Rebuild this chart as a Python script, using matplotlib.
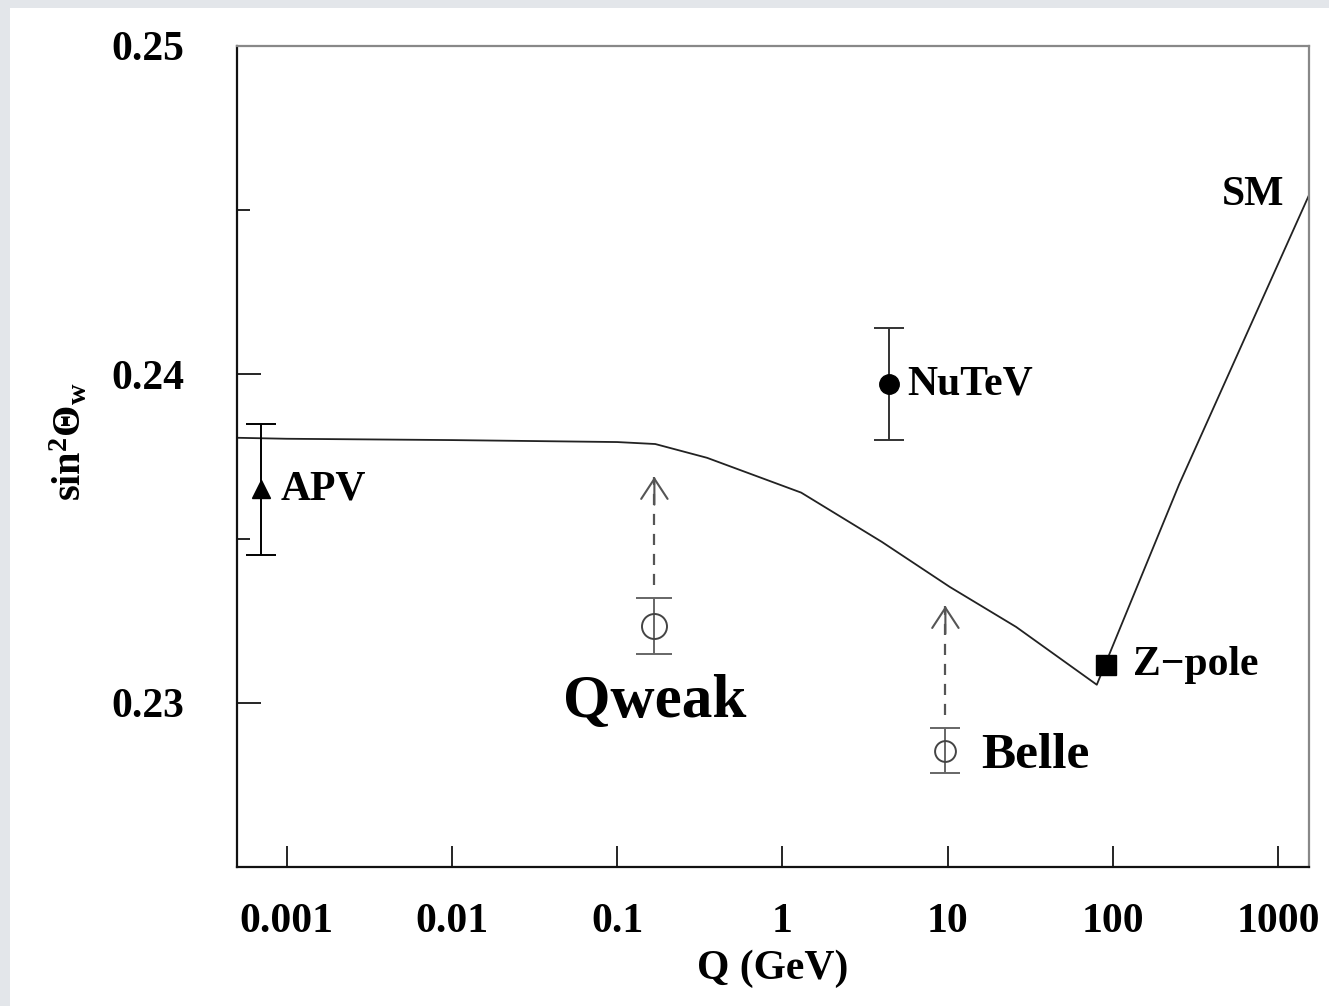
import matplotlib
matplotlib.use("Agg")
import matplotlib.pyplot as plt
from matplotlib.patches import Rectangle
from matplotlib.ticker import FixedLocator, NullLocator

plt.rcParams['font.family'] = ['Liberation Serif', 'DejaVu Serif']
plt.rcParams['font.weight'] = 'bold'
plt.rcParams['mathtext.fontset'] = 'custom'
plt.rcParams['mathtext.rm'] = 'Liberation Serif:bold'
plt.rcParams['mathtext.bf'] = 'Liberation Serif:bold'
plt.rcParams['mathtext.it'] = 'Liberation Serif:bold'

# ---- data ----
sm_q = [0.0005, 0.001, 0.01, 0.1, 0.17, 0.35, 1.3, 4.0, 10.3, 26, 80,
        252, 1540]
sm_s = [0.23807, 0.23804, 0.2380, 0.23794, 0.23788, 0.23746, 0.2364, 0.2349,
        0.23353, 0.23231, 0.23055,
        0.23665, 0.24546]

apv_q, apv_s, apv_err = 0.0007, 0.2365, 0.0020
nutev_q, nutev_s, nutev_err = 4.45, 0.2397, 0.0017
qweak_q, qweak_s, qweak_err = 0.168, 0.23234, 0.00085
belle_q, belle_s, belle_err = 9.7, 0.22854, 0.00068
zpole_q, zpole_s = 91.2, 0.23116

qweak_arrow = [0.23359, 0.23688]
belle_arrow = [0.22963, 0.23295]

x_ticks = [0.001, 0.01, 0.1, 1, 10, 100, 1000]
x_ticklabels = ['0.001', '0.01', '0.1', '1', '10', '100', '1000']
y_major = [0.23, 0.24, 0.25]
y_minor = [0.225, 0.235, 0.245]
y_ticklabels = ['0.23', '0.24', '0.25']

# ---- figure ----
W, H = 1329, 1006
fig = plt.figure(figsize=(W / 100, H / 100), dpi=100)
fig.patch.set_facecolor('#e3e6ea')
fig.patches.append(Rectangle((10 / W, 0), 1 - 10 / W, 1 - 8 / H,
                             transform=fig.transFigure, facecolor='white',
                             edgecolor='none', zorder=-10))

ax = fig.add_axes([237 / W, 1 - 867 / H, (1309 - 237) / W, (867 - 46) / H])
ax.set_facecolor('white')
ax.set_xscale('log')
ax.set_xlim(0.0005, 1540)
ax.set_ylim(0.225, 0.25)

# SM curve
ax.plot(sm_q, sm_s, color='#222222', lw=1.3, zorder=2)

gray = '#666666'
# APV
ax.errorbar([apv_q], [apv_s], yerr=[apv_err], fmt='^', color='black', ms=13,
            capsize=11, elinewidth=1.4, capthick=1.4, zorder=3)
# NuTeV
ax.errorbar([nutev_q], [nutev_s], yerr=[nutev_err], fmt='o', color='black', ms=14,
            capsize=11, elinewidth=1.4, capthick=1.4, zorder=3, ecolor='#333333')
# Qweak
ax.errorbar([qweak_q], [qweak_s], yerr=[qweak_err], fmt='o', mfc='none', mec='#444444',
            mew=1.4, ms=18, capsize=13, elinewidth=1.4, capthick=1.8, ecolor=gray, zorder=3)
# Belle
ax.errorbar([belle_q], [belle_s], yerr=[belle_err], fmt='o', mfc='none', mec='#444444',
            mew=1.4, ms=15, capsize=11, elinewidth=1.4, capthick=1.8, ecolor=gray, zorder=3)
# Z-pole
ax.plot([zpole_q], [zpole_s], 's', color='black', ms=15, zorder=4)

# dashed arrows
for q, (a0, a1) in [(qweak_q, qweak_arrow), (belle_q, belle_arrow)]:
    ax.plot([q, q], [a0, a1], ls=(0, (5, 4)), color='#555555', lw=1.6, zorder=2)
    ax.annotate('', xy=(q, a1), xytext=(0, -20), textcoords='offset points',
                xycoords='data',
                arrowprops=dict(arrowstyle='->,head_length=1.45,head_width=0.95',
                                color='#555555', lw=1.5, shrinkA=0, shrinkB=0))

# labels
ax.annotate('APV', (apv_q, apv_s), xytext=(14, 0), textcoords='offset points',
            ha='left', va='center', fontsize=30, fontweight='bold')
ax.annotate('NuTeV', (nutev_q, nutev_s), xytext=(13, 0), textcoords='offset points',
            ha='left', va='center', fontsize=30, fontweight='bold')
ax.annotate('Qweak', (qweak_q, qweak_s), xytext=(0, -55), textcoords='offset points',
            ha='center', va='center', fontsize=44, fontweight='bold')
ax.annotate('Belle', (belle_q, belle_s), xytext=(26, -4), textcoords='offset points',
            ha='left', va='center', fontsize=37, fontweight='bold')
ax.annotate('Z\u2212pole', (zpole_q, zpole_s), xytext=(19, 0), textcoords='offset points',
            ha='left', va='center', fontsize=30, fontweight='bold')
ax.annotate('SM', (sm_q[-1], sm_s[-1]), xytext=(-18, 0), textcoords='offset points',
            ha='right', va='center', fontsize=30, fontweight='bold')

# axes styling
for side in ['left', 'bottom']:
    ax.spines[side].set_linewidth(1.6)
    ax.spines[side].set_color('#111111')
for side in ['right', 'top']:
    ax.spines[side].set_linewidth(1.6)
    ax.spines[side].set_color('#888888')

ax.xaxis.set_major_locator(FixedLocator(x_ticks))
ax.xaxis.set_minor_locator(NullLocator())
ax.set_xticklabels(x_ticklabels)
ax.yaxis.set_major_locator(FixedLocator(y_major))
ax.yaxis.set_minor_locator(FixedLocator(y_minor))
ax.set_yticklabels(y_ticklabels)

ax.tick_params(axis='x', which='major', direction='in', length=15, width=1.2,
               pad=26, labelsize=30, top=False)
ax.tick_params(axis='y', which='major', direction='in', length=17, width=1.2,
               pad=38, labelsize=30, right=False)
ax.tick_params(axis='y', which='minor', direction='in', length=9, width=1.2, right=False)
for lab in ax.get_xticklabels() + ax.get_yticklabels():
    lab.set_fontweight('bold')

ax.set_xlabel('Q (GeV)', fontsize=30, fontweight='bold', labelpad=6)
ax.set_ylabel(r'$\mathrm{sin}^{\mathrm{2}}\Theta_{\mathrm{w}}$', fontsize=29)
ax.yaxis.set_label_coords((90 - 237) / 1072, (867 - 442) / 821)

fig.savefig('out.png', dpi=100, facecolor=fig.get_facecolor())
